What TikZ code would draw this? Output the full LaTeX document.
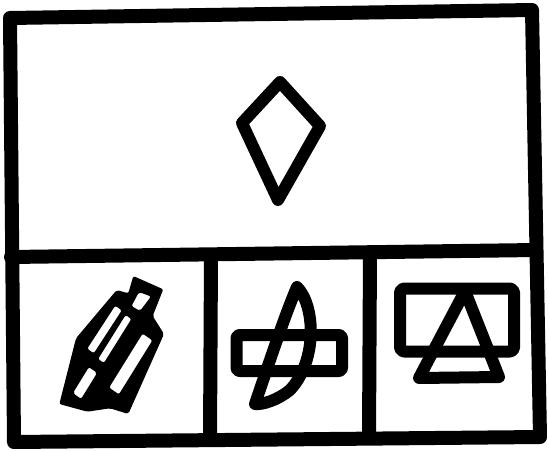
\documentclass[tikz,border=0pt]{standalone}
\begin{document}
\begin{tikzpicture}[x=1pt,y=-1pt,
  framestroke/.style={line width=14pt,line join=round,line cap=round},
  glyph/.style={line width=12pt,line join=round,line cap=round},
  inkfill/.style={fill=black,even odd rule,rounded corners=2pt}]
\useasboundingbox (0,0) rectangle (549,452);
\fill[white] (0,0) rectangle (549,452);
% outer frame
\coordinate (tl) at (10,18);
\coordinate (tr) at (532,10);
\coordinate (br) at (540,437);
\coordinate (bl) at (14,442);
\draw[framestroke] (tl) -- (tr) -- (br) -- (bl) -- cycle;
% dividers
\coordinate (hl) at (11,257);
\coordinate (hr) at (536,250);
\draw[framestroke] (hl) -- (hr);
\coordinate (d1t) at (211,255);
\coordinate (d1b) at (210,440);
\draw[framestroke] (d1t) -- (d1b);
\coordinate (d2t) at (370,252);
\coordinate (d2b) at (369,438);
\draw[framestroke] (d2t) -- (d2b);
% kite
\draw[glyph] (280,82) -- (320,126) -- (278,200) -- (242,123) -- cycle;
% panel 1: two crossing bars (ink region with its holes)
\fill[inkfill]
  (133.3,276) -- (163.3,289.3) -- (152.7,316) -- (164,334) -- (128.3,414)
  -- (110,408.3) -- (87.3,411.7) -- (59.3,404) -- (76,338.3) -- (116.7,290)
  -- (128.3,293.3) -- cycle
  (139,292) -- (151,296.5) -- (140,311) -- (131.5,306) -- cycle
  (115.2,305.7) -- (121.8,310.3) -- (93.8,353.3) -- (87.2,348.7) -- cycle
  (125.6,315) -- (131.4,319) -- (103.9,363) -- (98.1,359) -- cycle
  (142.6,333.6) -- (152.4,340.4) -- (118.9,394.4) -- (109.1,387.6) -- cycle
  (88.9,367.1) -- (97.1,372.9) -- (81.1,398.9) -- (72.9,393.1) -- cycle;
% panel 2
\draw[glyph,rounded corners=3pt] (236.5,335) rectangle (342,371);
\draw[glyph] (297,287) .. controls (315,305) and (318,360) .. (290,390)
  .. controls (278,400) and (262,405) .. (255,404)
  .. controls (270,360) and (285,315) .. (297,287) -- cycle;
% panel 3
\draw[glyph,rounded corners=4pt] (400,288.5) rectangle (514,351.5);
\draw[glyph] (465,291) -- (499,377) -- (419,378) -- cycle;
\end{tikzpicture}
\end{document}
